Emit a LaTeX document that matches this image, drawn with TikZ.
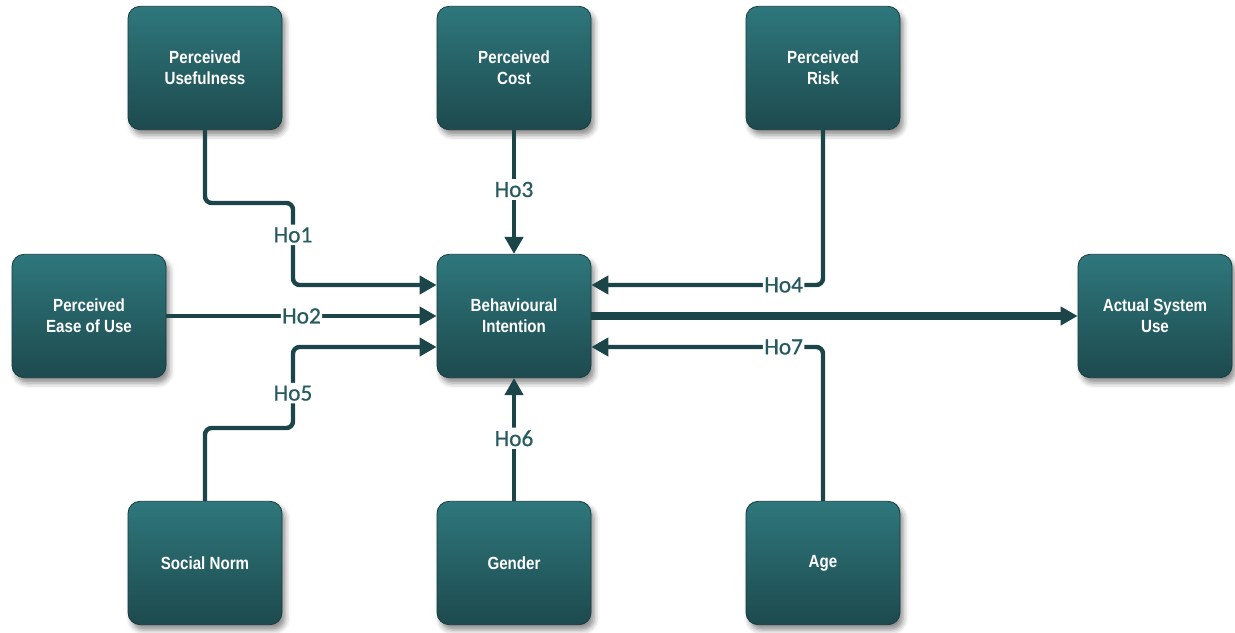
\documentclass[tikz,border=0pt]{standalone}
\usepackage{fontspec}
\setmainfont{Liberation Sans}
\newfontfamily\boxfont[FakeStretch=0.86]{Liberation Sans}
\newfontfamily\hypfont[FakeBold=0.6]{Carlito}
\usetikzlibrary{arrows.meta,shadows.blur,calc}

\definecolor{tealtop}{HTML}{2E777C}
\definecolor{tealbot}{HTML}{1D4A4E}
\definecolor{tealedge}{HTML}{183C3F}
\definecolor{linkcol}{HTML}{1B4548}
\definecolor{hypcol}{HTML}{255A5E}

\tikzset{
  construct/.style={
    rectangle, rounded corners=9pt, draw=tealedge, line width=0.6pt,
    top color=tealtop, bottom color=tealbot,
    minimum width=115.5pt, minimum height=92.5pt, inner sep=0pt,
    align=center, text=white,
    font=\boxfont\bfseries\fontsize{13.2pt}{15.5pt}\selectfont,
    blur shadow={shadow xshift=2.5pt, shadow yshift=-4pt,
                 shadow blur radius=4pt, shadow opacity=45}
  },
  link/.style={draw=linkcol, line width=3.3pt, rounded corners=5pt,
    -{Triangle[length=12.75pt, width=13.5pt]}},
  mainlink/.style={link, line width=5.3pt},
  hyp/.style={fill=white, inner xsep=1pt, inner ysep=2pt, text=hypcol,
    font=\hypfont\fontsize{17.5pt}{20pt}\selectfont}
}

\begin{document}
\begin{tikzpicture}[x=0.75pt, y=-0.75pt]
  \useasboundingbox (0,0) rectangle (1235,632);

  % constructs
  \node[construct] (pu)  at (205,68)   {Perceived\\Usefulness};
  \node[construct] (pc)  at (514,68)   {Perceived\\Cost};
  \node[construct] (pr)  at (823,68)   {Perceived\\Risk};
  \node[construct] (peu) at (89,316)   {Perceived\\Ease of Use};
  \node[construct] (bi)  at (514,316)  {Behavioural\\Intention};
  \node[construct] (asu) at (1155,316) {Actual System\\Use};
  \node[construct] (sn)  at (205,563)  {Social Norm};
  \node[construct] (gen) at (514,563)  {Gender};
  \node[construct] (age) at (823,563)  {Age};

  % entry points on the intention box
  \coordinate (biwu) at ($(bi.west)+(0,-31)$);
  \coordinate (biwd) at ($(bi.west)+(0,31)$);
  \coordinate (bieu) at ($(bi.east)+(0,-31)$);
  \coordinate (bied) at ($(bi.east)+(0,31)$);

  % hypothesised paths
  \draw[link] (pu.south) -- (pu.south |- 0,203) -- (293,203)
    -- node[hyp, pos=0.39] {Ho1} (293,285) -- (biwu);
  \draw[link] (peu.east) -- node[hyp, pos=0.5] {Ho2} (bi.west);
  \draw[link] (pc.south) -- node[hyp, pos=0.48] {Ho3} (bi.north);
  \draw[link] (pr.south) -- (pr.south |- bieu)
    -- node[hyp, pos=0.17] {Ho4} (bieu);
  \draw[link] (sn.north) -- (sn.north |- 0,428) -- (293,428)
    -- node[hyp, pos=0.43] {Ho5} (293,347) -- (biwd);
  \draw[link] (gen.north) -- node[hyp, pos=0.51] {Ho6} (bi.south);
  \draw[link] (age.north) -- (age.north |- bied)
    -- node[hyp, pos=0.17] {Ho7} (bied);

  % intention to use
  \draw[mainlink] (bi.east) -- (asu.west);
\end{tikzpicture}
\end{document}
